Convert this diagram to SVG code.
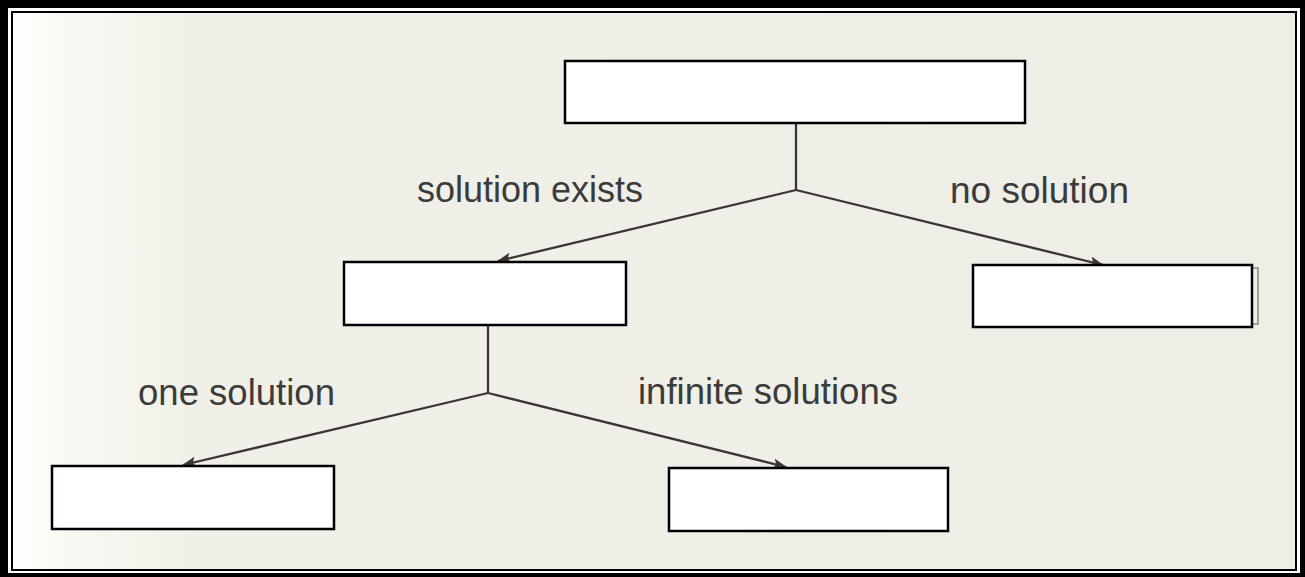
<svg xmlns="http://www.w3.org/2000/svg" width="1305" height="577" viewBox="0 0 1305 577">
  <style>
    .box { fill: #ffffff; stroke: #000000; stroke-width: 2.5; }
    .edge { fill: none; stroke: #3e3438; stroke-width: 2.3; }
    .lbl { font-family: "Liberation Sans", Arial, sans-serif; font-size: 37px; fill: #3c3b3b; }
  </style>
  <defs>
    <linearGradient id="paper" x1="0" y1="0" x2="1" y2="0">
      <stop offset="0" stop-color="#fefefc"/>
      <stop offset="0.05" stop-color="#f8f8f2"/>
      <stop offset="0.14" stop-color="#f1f0e8"/>
      <stop offset="1" stop-color="#efeee6"/>
    </linearGradient>
    <marker id="arrow" viewBox="0 0 14 11" refX="13" refY="5.5" markerWidth="14" markerHeight="11" markerUnits="userSpaceOnUse" orient="auto">
      <path d="M0,0 L14,5.5 L0,11 L3,5.5 Z" fill="#3e3438"/>
    </marker>
  </defs>

  <!-- frame -->
  <rect x="0" y="0" width="1305" height="577" fill="#ffffff"/>
  <rect x="13" y="13" width="1282" height="556" fill="url(#paper)"/>
  <path d="M0,0 H1305 V577 H0 Z M8,8 V573 H1300 V8 Z" fill="#000000" fill-rule="evenodd"/>
  <rect x="12" y="12" width="1284" height="558" fill="none" stroke="#000000" stroke-width="2"/>

  <!-- connectors -->
  <g id="connectors">
    <path class="edge" d="M796,124 V190"/>
    <path class="edge" d="M796,190 L498,261" marker-end="url(#arrow)"/>
    <path class="edge" d="M796,190 L1103,265" marker-end="url(#arrow)"/>
    <path class="edge" d="M488,325 V393"/>
    <path class="edge" d="M488,393 L183,465" marker-end="url(#arrow)"/>
    <path class="edge" d="M488,393 L786,467" marker-end="url(#arrow)"/>
  </g>

  <!-- labels -->
  <g id="labels">
    <text class="lbl" x="417" y="202" textLength="226" lengthAdjust="spacingAndGlyphs">solution exists</text>
    <text class="lbl" x="950" y="203" textLength="179" lengthAdjust="spacingAndGlyphs">no solution</text>
    <text class="lbl" x="138" y="405" textLength="197" lengthAdjust="spacingAndGlyphs">one solution</text>
    <text class="lbl" x="638" y="404" textLength="260" lengthAdjust="spacingAndGlyphs">infinite solutions</text>
  </g>

  <!-- nodes -->
  <g id="node-root">
    <rect class="box" x="565" y="61" width="460" height="62"/>
  </g>
  <g id="node-exists">
    <rect class="box" x="344" y="262" width="282" height="63"/>
  </g>
  <g id="node-none">
    <path d="M1252,268 H1258 V324 H1252" fill="none" stroke="#8a8580" stroke-width="1.5"/>
    <rect class="box" x="973" y="265" width="279" height="62"/>
  </g>
  <g id="node-one">
    <rect class="box" x="52" y="466" width="282" height="63"/>
  </g>
  <g id="node-infinite">
    <rect class="box" x="669" y="468" width="279" height="63"/>
  </g>
</svg>
